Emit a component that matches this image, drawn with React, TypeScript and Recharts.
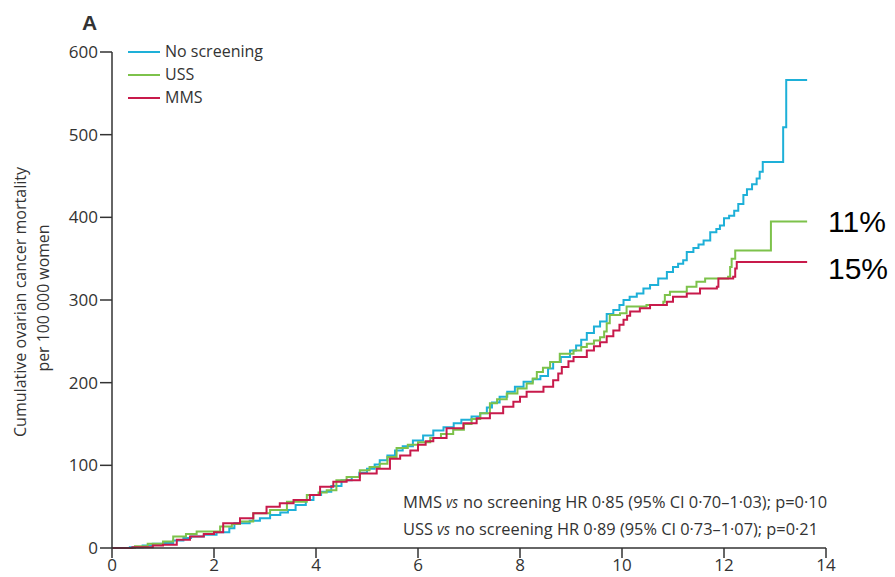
import React from "react";
import { LineChart, Line, XAxis, YAxis, Legend } from "recharts";

const FONT = "'Open Sans', 'Liberation Sans', sans-serif";

const xTicks = [0, 2, 4, 6, 8, 10, 12, 14];
const yTicks = [0, 100, 200, 300, 400, 500, 600];

const noScreeningT = [0, 0.35, 0.6, 0.8, 1.0, 1.2, 1.4, 1.55, 1.8, 2.05, 2.3, 2.4, 2.7, 2.9, 3.1, 3.3, 3.45, 3.6, 3.8, 3.95, 4.1, 4.3, 4.5, 4.7, 4.85, 5.0, 5.15, 5.25, 5.4, 5.55, 5.7, 5.9, 6.1, 6.3, 6.5, 6.7, 6.85, 7.05, 7.22, 7.35, 7.45, 7.6, 7.75, 7.9, 8.07, 8.25, 8.4, 8.55, 8.65, 8.8, 8.98, 9.1, 9.2, 9.31, 9.45, 9.57, 9.7, 9.83, 9.95, 10.03, 10.15, 10.29, 10.42, 10.55, 10.71, 10.88, 11.0, 11.1, 11.2, 11.27, 11.4, 11.5, 11.6, 11.73, 11.85, 11.92, 12.0, 12.1, 12.2, 12.28, 12.38, 12.45, 12.55, 12.64, 12.7, 12.76, 13.16, 13.22, 13.63];
const noScreeningV = [0, 1, 3, 5, 6, 9, 12, 14, 16, 19, 24, 30, 33, 36, 40, 43, 46, 52, 58, 64, 68, 75, 82, 86, 91, 96, 101, 106, 112, 118, 123, 130, 136, 142, 146, 151, 155, 159, 163, 170, 176, 183, 189, 195, 201, 204, 208, 217, 225, 231, 239, 245, 252, 260, 268, 274, 283, 288, 294, 300, 304, 308, 314, 318, 326, 334, 340, 344, 348, 358, 363, 367, 372, 382, 386, 390, 399, 402, 408, 416, 427, 434, 440, 447, 455, 467, 509, 566, 566];

const ussT = [0, 0.45, 0.7, 1.0, 1.2, 1.45, 1.66, 2.12, 2.35, 2.51, 2.77, 3.1, 3.43, 3.82, 4.05, 4.21, 4.4, 4.6, 4.86, 5.05, 5.25, 5.4, 5.58, 5.8, 6.0, 6.24, 6.45, 6.69, 6.9, 7.05, 7.22, 7.41, 7.55, 7.74, 7.95, 8.13, 8.25, 8.33, 8.45, 8.59, 8.78, 9.05, 9.2, 9.31, 9.45, 9.57, 9.65, 9.7, 9.76, 9.96, 10.09, 10.48, 10.81, 10.84, 10.94, 11.27, 11.46, 11.63, 12.08, 12.12, 12.15, 12.22, 12.92, 13.63];
const ussV = [0, 2, 5, 8, 14, 17, 20, 26, 29, 32, 42, 46, 56, 64, 67, 70, 82, 86, 94, 98, 102, 110, 121, 125, 128, 133, 138, 143, 150, 156, 163, 175, 180, 187, 193, 199, 205, 213, 218, 225, 235, 239, 243, 247, 251, 255, 262, 272, 282, 284, 292, 294, 298, 306, 310, 316, 322, 326, 328, 340, 350, 360, 395, 395];

const mmsT = [0, 0.4, 0.8, 1.0, 1.27, 1.53, 1.8, 2.0, 2.18, 2.51, 2.77, 3.03, 3.29, 3.56, 3.88, 4.08, 4.34, 4.6, 4.86, 5.19, 5.45, 5.65, 5.85, 6.0, 6.15, 6.3, 6.56, 6.89, 7.15, 7.41, 7.67, 7.87, 8.0, 8.13, 8.46, 8.65, 8.75, 8.82, 8.95, 9.05, 9.31, 9.45, 9.57, 9.7, 9.83, 9.95, 10.03, 10.1, 10.16, 10.35, 10.55, 10.88, 11.0, 11.27, 11.53, 11.86, 11.89, 12.18, 12.22, 12.25, 13.63];
const mmsV = [0, 1, 3, 4, 10, 14, 17, 19, 30, 36, 42, 50, 54, 58, 64, 74, 80, 82, 90, 96, 108, 112, 118, 125, 129, 133, 145, 151, 157, 163, 171, 177, 183, 189, 195, 203, 211, 219, 226, 231, 239, 244, 249, 256, 263, 270, 276, 281, 286, 290, 294, 298, 304, 308, 314, 316, 326, 328, 338, 346, 346];

const seriesNames = ["No screening", "USS", "MMS"];
const seriesColors = ["#1eb0d8", "#7dc24b", "#c81a4b"];
const endLabels = ["11%", "15%"];
const noteLine1 = ["MMS", "vs", "no screening HR 0·85 (95% CI 0·70–1·03); p=0·10"];
const noteLine2 = ["USS", "vs", "no screening HR 0·89 (95% CI 0·73–1·07); p=0·21"];
const yLabelLines = ["Cumulative ovarian cancer mortality", "per 100 000 women"];

const build = (ts: number[], vs: number[]) => ts.map((t, i) => ({ t, v: vs[i] }));
const seriesData = [build(noScreeningT, noScreeningV), build(ussT, ussV), build(mmsT, mmsV)];

const LegendContent = () => (
  <div style={{ fontFamily: FONT, fontSize: 16, color: "#333" }}>
    {seriesNames.map((n, i) => (
      <div key={n} style={{ display: "flex", alignItems: "center", height: 23.3 }}>
        <span style={{ display: "inline-block", width: 32, height: 2, background: seriesColors[i], marginRight: 5 }} />
        <span style={{ lineHeight: "16px", marginTop: -2 }}>{n}</span>
      </div>
    ))}
  </div>
);

const NoteText = ({ y, parts, xs, lens }: { y: number; parts: string[]; xs: number[]; lens: number[] }) => (
  <g>
    {parts.map((p, i) => (
      <text
        key={i}
        x={xs[i]}
        y={y}
        fontFamily={FONT}
        fontSize={17}
        fontStyle={i === 1 ? "italic" : "normal"}
        fill="#333"
        textLength={lens[i]}
        lengthAdjust="spacingAndGlyphs"
      >{p}</text>
    ))}
  </g>
);

export default function App() {
  return (
    <div style={{ position: "absolute", left: 0, top: 0, width: 895, height: 577, background: "#fff" }}>
      <LineChart width={895} height={577} margin={{ top: 52, right: 69, bottom: 0, left: 0 }}>
        <XAxis
          type="number"
          dataKey="t"
          domain={[0, 14]}
          ticks={xTicks}
          height={29}
          tickSize={10}
          tickMargin={1}
          axisLine={{ stroke: "#333", strokeWidth: 1.5 }}
          tickLine={{ stroke: "#333", strokeWidth: 1.5 }}
          tick={{ fontSize: 17, fill: "#333", fontFamily: FONT }}
          allowDataOverflow
        />
        <YAxis
          type="number"
          domain={[0, 600]}
          ticks={yTicks}
          width={112}
          tickSize={12}
          tickMargin={2}
          axisLine={{ stroke: "#333", strokeWidth: 1.5 }}
          tickLine={{ stroke: "#333", strokeWidth: 1.5 }}
          tick={{ fontSize: 17, fill: "#333", fontFamily: FONT }}
        />
        <Legend
          layout="horizontal"
          verticalAlign="middle"
          align="center"
          content={<LegendContent />}
          wrapperStyle={{ position: "absolute", left: 128, top: 40, width: "auto", height: "auto" }}
        />
        {seriesData.map((d, i) => (
          <Line
            key={seriesNames[i]}
            data={d}
            dataKey="v"
            name={seriesNames[i]}
            type="stepAfter"
            stroke={seriesColors[i]}
            strokeWidth={2}
            dot={false}
            activeDot={false}
            isAnimationActive={false}
          />
        ))}
      </LineChart>
      <svg width={895} height={577} style={{ position: "absolute", left: 0, top: 0, pointerEvents: "none" }}>
        <text x={82} y={30} fontFamily="'Liberation Sans', sans-serif" fontWeight="bold" fontSize={21} fill="#333">A</text>
        <text
          x={26} y={302} transform="rotate(-90 26 302)" textAnchor="middle"
          fontFamily={FONT} fontSize={16} fill="#333" textLength={270} lengthAdjust="spacingAndGlyphs"
        >{yLabelLines[0]}</text>
        <text
          x={49} y={298} transform="rotate(-90 49 298)" textAnchor="middle"
          fontFamily={FONT} fontSize={16} fill="#333" textLength={147} lengthAdjust="spacingAndGlyphs"
        >{yLabelLines[1]}</text>
        <NoteText y={508} parts={noteLine1} xs={[403, 446, 463]} lens={[39, 12, 364]} />
        <NoteText y={535} parts={noteLine2} xs={[403, 437, 455]} lens={[30, 13, 363]} />
        <text x={828} y={232} fontFamily="'Liberation Sans', 'Open Sans', sans-serif" fontSize={30} fill="#000">{endLabels[0]}</text>
        <text x={828} y={279} fontFamily="'Liberation Sans', 'Open Sans', sans-serif" fontSize={30} fill="#000">{endLabels[1]}</text>
      </svg>
    </div>
  );
}
